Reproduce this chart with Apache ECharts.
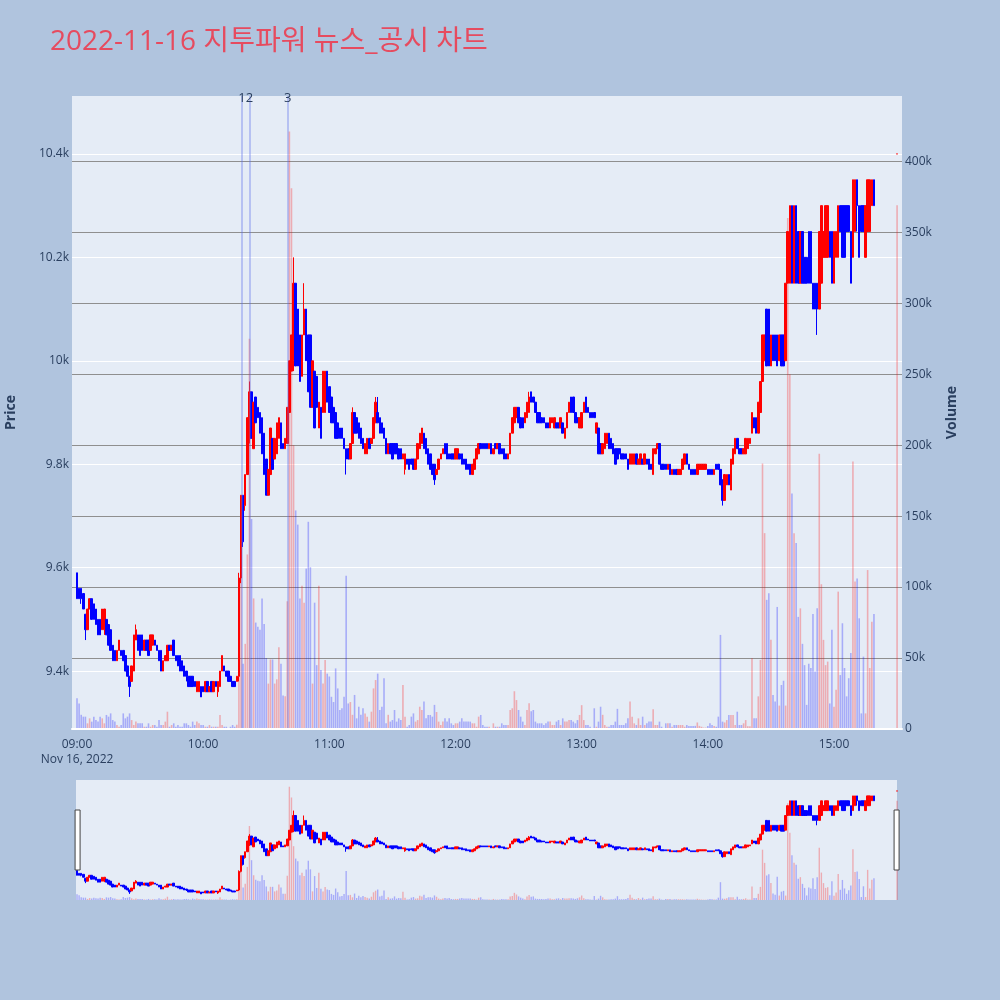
<!DOCTYPE html>
<html><head><meta charset="utf-8">
<script src="https://cdn.jsdelivr.net/npm/echarts@6/dist/echarts.min.js"></script>
<style>html,body{margin:0;padding:0;background:#b0c4de;}#chart{width:1000px;height:1000px;}</style>
</head><body><div id="chart"></div>
<script>
const chartTitle = '2022-11-16 지투파워 뉴스_공시 차트';
const timeTicks = [0, 60, 120, 180, 240, 300, 360];
const timeTickLabels = ['09:00\nNov 16, 2022', '10:00', '11:00', '12:00', '13:00', '14:00', '15:00'];
const priceTicks = [9400, 9600, 9800, 10000, 10200, 10400];
const priceTickLabels = ['9.4k', '9.6k', '9.8k', '10k', '10.2k', '10.4k'];
const volumeTicks = [0, 50, 100, 150, 200, 250, 300, 350, 400];
const volumeTickLabels = ['0', '50k', '100k', '150k', '200k', '250k', '300k', '350k', '400k'];

// one candle per minute after 09:00 (0..379), then the 15:30 closing auction (390)
const tradeMinutes = Array.from({length: 380}, (_, i) => i).concat([390]);

const opens = [
9590,9560,9560,9550,9510,9480,9520,9540,9530,9520,
9500,9500,9480,9480,9500,9490,9480,9450,9440,9420,
9440,9440,9440,9430,9410,9390,9380,9400,9460,9470,
9470,9470,9440,9460,9460,9440,9450,9460,9450,9440,
9440,9400,9420,9420,9450,9440,9460,9430,9430,9430,
9420,9410,9400,9390,9390,9390,9380,9360,9360,9370,
9370,9360,9380,9360,9380,9360,9380,9360,9370,9400,
9410,9400,9400,9390,9380,9380,9380,9390,9580,9740,
9720,9780,9850,9940,9830,9930,9910,9900,9890,9860,
9810,9740,9780,9850,9810,9820,9850,9880,9840,9830,
9840,9900,9980,10000,10150,10100,10050,9970,10050,10100,
10050,10050,9910,9980,9970,9870,9910,9900,9900,9980,
9950,9930,9910,9900,9880,9870,9870,9850,9830,9830,
9810,9840,9900,9890,9880,9870,9850,9820,9820,9850,
9840,9850,9880,9900,9890,9880,9870,9850,9820,9840,
9840,9840,9840,9830,9830,9810,9790,9810,9810,9810,
9810,9790,9810,9830,9840,9860,9850,9830,9820,9800,
9800,9780,9790,9810,9820,9840,9840,9820,9820,9820,
9810,9810,9820,9820,9810,9810,9800,9800,9780,9790,
9810,9820,9840,9840,9840,9840,9830,9840,9820,9840,
9830,9840,9830,9830,9820,9810,9820,9860,9880,9890,
9910,9890,9890,9880,9890,9900,9940,9930,9920,9900,
9900,9890,9890,9880,9880,9870,9880,9870,9880,9880,
9870,9880,9850,9870,9900,9930,9930,9900,9890,9870,
9870,9900,9930,9910,9900,9900,9900,9860,9870,9840,
9820,9830,9840,9860,9850,9840,9830,9830,9830,9820,
9820,9820,9810,9800,9800,9800,9820,9800,9800,9810,
9800,9810,9810,9800,9780,9820,9830,9840,9800,9800,
9800,9790,9800,9780,9790,9790,9780,9780,9790,9800,
9820,9800,9790,9790,9790,9780,9790,9790,9790,9790,
9790,9790,9790,9780,9800,9800,9790,9770,9730,9760,
9780,9750,9800,9820,9850,9830,9830,9820,9820,9830,
9840,9860,9890,9890,9860,9900,9960,10000,10100,10100,
9990,10050,10050,10050,10000,10050,10050,10000,10150,10150,
10300,10150,10300,10250,10150,10250,10200,10200,10250,10250,
10150,10150,10150,10100,10150,10200,10200,10200,10250,10250,
10150,10200,10200,10300,10300,10300,10300,10300,10250,10200,
10250,10350,10300,10300,10300,10200,10250,10250,10300,10350,
10400];

const closes = [
9540,9540,9540,9520,9480,9520,9540,9500,9500,9490,
9470,9470,9520,9520,9470,9450,9440,9420,9420,9440,
9460,9430,9420,9400,9390,9370,9410,9470,9480,9440,
9430,9440,9460,9440,9430,9470,9470,9450,9440,9420,
9400,9420,9430,9450,9440,9450,9430,9420,9410,9400,
9400,9390,9390,9370,9370,9370,9370,9380,9380,9350,
9360,9380,9360,9370,9360,9380,9370,9380,9400,9430,
9400,9390,9380,9380,9370,9370,9390,9580,9740,9650,
9780,9890,9940,9850,9920,9880,9890,9860,9820,9780,
9740,9790,9870,9790,9850,9880,9890,9830,9830,9850,
9910,10000,10050,10150,9990,9990,9960,10050,10100,10000,
9940,9910,10000,9870,9910,9920,9850,9980,9980,9920,
9900,9880,9880,9850,9850,9850,9850,9830,9810,9810,
9840,9900,9860,9860,9850,9840,9830,9840,9850,9830,
9850,9890,9920,9880,9860,9860,9850,9820,9840,9820,
9810,9820,9820,9810,9810,9820,9820,9800,9790,9800,
9790,9810,9840,9860,9870,9830,9820,9800,9790,9780,
9770,9790,9810,9820,9830,9820,9810,9810,9810,9810,
9830,9830,9810,9800,9800,9790,9790,9780,9800,9810,
9830,9840,9830,9830,9830,9830,9840,9820,9830,9830,
9840,9820,9820,9810,9810,9820,9860,9890,9910,9910,
9880,9870,9870,9900,9920,9930,9920,9920,9900,9880,
9880,9880,9880,9870,9870,9890,9890,9890,9870,9870,
9890,9860,9870,9900,9920,9900,9900,9880,9880,9890,
9900,9920,9900,9900,9890,9890,9890,9880,9820,9820,
9840,9860,9860,9830,9830,9820,9800,9810,9820,9810,
9810,9810,9790,9820,9820,9820,9800,9810,9820,9800,
9820,9800,9790,9790,9830,9830,9840,9800,9790,9790,
9790,9800,9780,9790,9780,9780,9790,9790,9810,9820,
9800,9790,9780,9780,9780,9800,9800,9800,9800,9800,
9780,9780,9780,9790,9790,9790,9760,9730,9780,9780,
9760,9810,9830,9850,9830,9820,9820,9830,9850,9850,
9850,9900,9870,9860,9920,9960,10050,10050,9990,9990,
10050,10000,10000,9990,10050,9990,9990,10150,10250,10300,
10150,10300,10150,10150,10250,10150,10150,10150,10150,10150,
10100,10100,10100,10250,10300,10250,10300,10300,10200,10150,
10250,10250,10300,10250,10200,10200,10250,10250,10150,10350,
10350,10300,10200,10250,10250,10300,10350,10350,10350,10300,
10400];

// wick ends that reach beyond the candle body: [minute, price]
const lowWicks = [[2,9530],[4,9460],[13,9470],[25,9350],[52,9380],[67,9350],[77,9380],[78,9570],[79,9640],[80,9710],[82,9840],[103,9980],[128,9780],[156,9780],[170,9760],[307,9720],[352,10050],[371,10250]];
const highWicks = [[28,9490],[77,9590],[82,9960],[103,10200],[108,10150],[131,9910],[142,9930],[143,9930],[215,9940]];

// volume in thousands of shares
const volumesK = [
21.6,18,10,8.7,8.7,4,7.5,5.2,8.7,6.3,
5.2,8.7,7.5,4,9.9,8.7,11,6.3,5.2,2.8,
1.6,2.8,11,7.5,8.7,11,6.3,2.8,5.2,4,
4,4,1.6,1.6,4,1.6,2.8,2.8,1.6,6.3,
2.8,2.8,5.2,12.2,1.6,2.8,4,1.6,2.8,1.6,
1.6,4,4,2.8,1.6,5.2,2.8,5.2,4,2.8,
2.8,1.6,1.6,2.8,1.6,1.6,1.6,1.6,9.9,2.8,
1.6,1.6,0.5,1.6,2.8,1.6,3,105,110,46,
60,123,275,148,92,75,72,70,92,74,
50,32,49,49,32,35,57.6,46,23.6,23,
90,421,381,200,154,144,92,101,89,113,
146,114,32,89,45,101,41.6,32,48.6,39,
37,22.7,19,42.7,28.6,13.4,14.6,22.7,108,18,
19,10,24,7.5,15.7,10,14.6,11,8.7,5.2,
12.2,28.6,34.5,39,13.4,15.7,35.7,4,10,5.2,
6.3,13.4,5.2,7.5,6.3,31,8.7,1.6,2.8,8.7,
11,5.2,6.3,15.7,13.4,19.3,7.5,9.9,9.9,8.7,
17,12,5.2,2.8,5.2,7.5,5.2,7.5,4,2.8,
4,4,5.2,7.5,5.2,5.2,5.2,5.2,4,4,
1.6,8.7,9.9,2.8,1.6,1.6,1.6,0.5,4,1.6,
1.6,1.6,4,2.8,2.8,2.8,13.4,14.6,26.6,20.4,
13.4,8.7,5.2,2.8,13.4,18.2,12.5,13.4,5.2,4,
4,4,2.8,4,5.2,5.2,2.8,2.8,5.2,6.3,
2.8,7.5,5.2,5.2,6.3,6.3,5.2,4,6.3,9.9,
16.8,6.3,2.8,2.8,1.6,0.5,14.6,1.6,5.2,15.7,
10,2.8,1.6,1.6,2.8,2.8,5.2,14.2,2.8,2.8,
2.8,4,7.5,19.3,8.7,4,2.8,7.5,2.8,8.7,
2.8,4,5.2,5.2,14,2.8,2.8,5.2,1.6,0.5,
4,4,4,1.6,2.8,2.8,2.8,2.8,2.8,1.6,
2.8,2.2,2.2,2.2,2.2,4.6,2.2,1.6,1,1,
2.2,4,2.8,2.2,1.6,8.7,66.3,5.2,4.6,6.3,
9.9,9.9,9.9,2.8,12.2,2.8,2.8,4,6.3,2,
2,49.9,7.5,7.5,23,48.7,187,138,91,95.6,
62.8,24,19.3,86,16.5,31,34,16.5,360,250,
166,138,131,79,85,60,45,17,46,43,
81,40.5,85,194,102,62.8,45,47.5,18,70,
15.7,27.6,96.8,38,74.5,43,23,35.8,53.5,188.5,
104,106,78,11,51,11,112,43,75.6,81,
369];

const newsMinutes = [78.5, 82, 100.2];
const newsLabels = ['1', '2', '3'];

// ---------- build ----------
const UP = '#ff0000', DOWN = '#0000ff';
const UP_VOL = 'rgba(255,0,0,0.27)', DOWN_VOL = 'rgba(0,0,255,0.27)';
const TXT = '#2a3f5f';
const FONT = "'Open Sans', 'Noto Sans CJK KR', sans-serif";

const lows = opens.map((o, i) => Math.min(o, closes[i]));
const highs = opens.map((o, i) => Math.max(o, closes[i]));
lowWicks.forEach(([m, p]) => { lows[tradeMinutes.indexOf(m)] = p; });
highWicks.forEach(([m, p]) => { highs[tradeMinutes.indexOf(m)] = p; });

const isUp = opens.map((o, i) => {
  const c = closes[i];
  if (c > o) return true;
  if (c < o) return false;
  return i > 0 ? c >= closes[i - 1] : true;
});
const candleData = tradeMinutes.map((m, i) => [m, opens[i], closes[i], lows[i], highs[i]]);
const volData = tradeMinutes.map((m, i) => ({value: [m, volumesK[i]], itemStyle: {color: isUp[i] ? UP_VOL : DOWN_VOL}}));

const candleStyle = {color: UP, color0: DOWN, borderColor: UP, borderColor0: DOWN, borderWidth: 1};
const labelStyle = {color: TXT, fontSize: 12, fontFamily: FONT};

const chart = echarts.init(document.getElementById('chart'), null, {renderer: 'canvas'});
chart.setOption({
  animation: false,
  backgroundColor: '#b0c4de',
  title: {
    text: chartTitle, left: 50, top: 28, padding: 0,
    textStyle: {color: '#e64b5f', fontSize: 28, fontWeight: 'normal', fontFamily: FONT}
  },
  grid: [
    {left: 72, top: 96, width: 830, height: 633, show: true, backgroundColor: '#e5ecf6', borderWidth: 0, containLabel: false, outerBoundsMode: 'none'},
    {left: 76, top: 780, width: 821, height: 120, show: true, backgroundColor: '#e5ecf6', borderWidth: 0, containLabel: false, outerBoundsMode: 'none'}
  ],
  xAxis: [
    {
      type: 'value', gridIndex: 0, min: -2.38, max: 392.34,
      axisLine: {show: true, onZero: false, lineStyle: {color: '#ffffff', width: 2}},
      axisTick: {show: false, customValues: timeTicks},
      splitLine: {show: false},
      axisLabel: Object.assign({}, labelStyle, {
        customValues: timeTicks, margin: 8, lineHeight: 15,
        formatter: v => timeTickLabels[timeTicks.indexOf(v)]
      }),
      z: 5
    },
    {type: 'value', gridIndex: 1, min: -0.476, max: 389.96, show: false}
  ],
  yAxis: [
    {
      type: 'value', gridIndex: 0, position: 'left', min: 9288, max: 10512,
      axisLine: {show: false},
      axisTick: {show: false, customValues: priceTicks},
      splitLine: {show: true, lineStyle: {color: '#ffffff', width: 1}},
      axisLabel: Object.assign({}, labelStyle, {
        customValues: priceTicks, margin: 3,
        formatter: v => priceTickLabels[priceTicks.indexOf(v)]
      }),
      name: 'Price', nameLocation: 'middle', nameRotate: 90, nameGap: 54,
      nameTextStyle: {color: TXT, fontSize: 14, fontWeight: 'bold', fontFamily: FONT}
    },
    {
      type: 'value', gridIndex: 0, position: 'right', min: 0, max: 446,
      axisLine: {show: false},
      axisTick: {show: false, customValues: volumeTicks.slice(1)},
      splitLine: {show: true, lineStyle: {color: '#8f8f8f', width: 1.2}},
      axisLabel: Object.assign({}, labelStyle, {
        customValues: volumeTicks, margin: 3,
        formatter: v => volumeTickLabels[volumeTicks.indexOf(v)]
      }),
      name: 'Volume', nameLocation: 'middle', nameRotate: 90, nameGap: 43,
      nameTextStyle: {color: TXT, fontSize: 14, fontWeight: 'bold', fontFamily: FONT}
    },
    {type: 'value', gridIndex: 1, min: 9288, max: 10512, show: false, splitLine: {show: false}},
    {type: 'value', gridIndex: 1, min: 0, max: 446, show: false, splitLine: {show: false}}
  ],
  dataZoom: [{
    type: 'slider', xAxisIndex: 0, filterMode: 'none', start: 0, end: 100,
    left: 76, width: 821, top: 780, height: 120,
    backgroundColor: 'rgba(0,0,0,0)', fillerColor: 'rgba(0,0,0,0)', borderColor: 'rgba(0,0,0,0)',
    showDetail: false, showDataShadow: false, brushSelect: false, realtime: false,
    handleIcon: 'path://M0,0 L5,0 L5,60 L0,60 Z', handleSize: 60,
    handleStyle: {color: '#ffffff', borderColor: '#444444', borderWidth: 1},
    moveHandleSize: 0, moveHandleStyle: {opacity: 0},
    dataBackground: {lineStyle: {opacity: 0}, areaStyle: {opacity: 0}},
    selectedDataBackground: {lineStyle: {opacity: 0}, areaStyle: {opacity: 0}},
    emphasis: {handleStyle: {color: '#ffffff', borderColor: '#444444', borderWidth: 1}},
    z: 10
  }],
  series: [
    {
      type: 'bar', xAxisIndex: 0, yAxisIndex: 1, data: volData, barWidth: 1.6, z: 2,
      markLine: {
        silent: true, symbol: ['none', 'none'], animation: false,
        lineStyle: {color: 'rgba(90,110,235,0.45)', width: 1.5, type: 'solid'},
        label: {show: true, position: 'end', formatter: '{b}', color: TXT, fontSize: 13, fontFamily: FONT, distance: -9},
        emphasis: {disabled: true},
        data: newsMinutes.map((m, i) => ({name: newsLabels[i], xAxis: m}))
      }
    },
    {
      type: 'candlestick', xAxisIndex: 0, yAxisIndex: 0, data: candleData,
      encode: {x: 0, y: [1, 2, 3, 4]}, barWidth: 2, itemStyle: candleStyle, z: 3
    },
    {
      type: 'bar', xAxisIndex: 1, yAxisIndex: 3, data: volData, barWidth: 1.4, clip: false, z: 2
    },
    {
      type: 'candlestick', xAxisIndex: 1, yAxisIndex: 2, data: candleData,
      encode: {x: 0, y: [1, 2, 3, 4]}, barWidth: 2, itemStyle: candleStyle, clip: false, z: 3
    }
  ]
});
</script></body></html>
